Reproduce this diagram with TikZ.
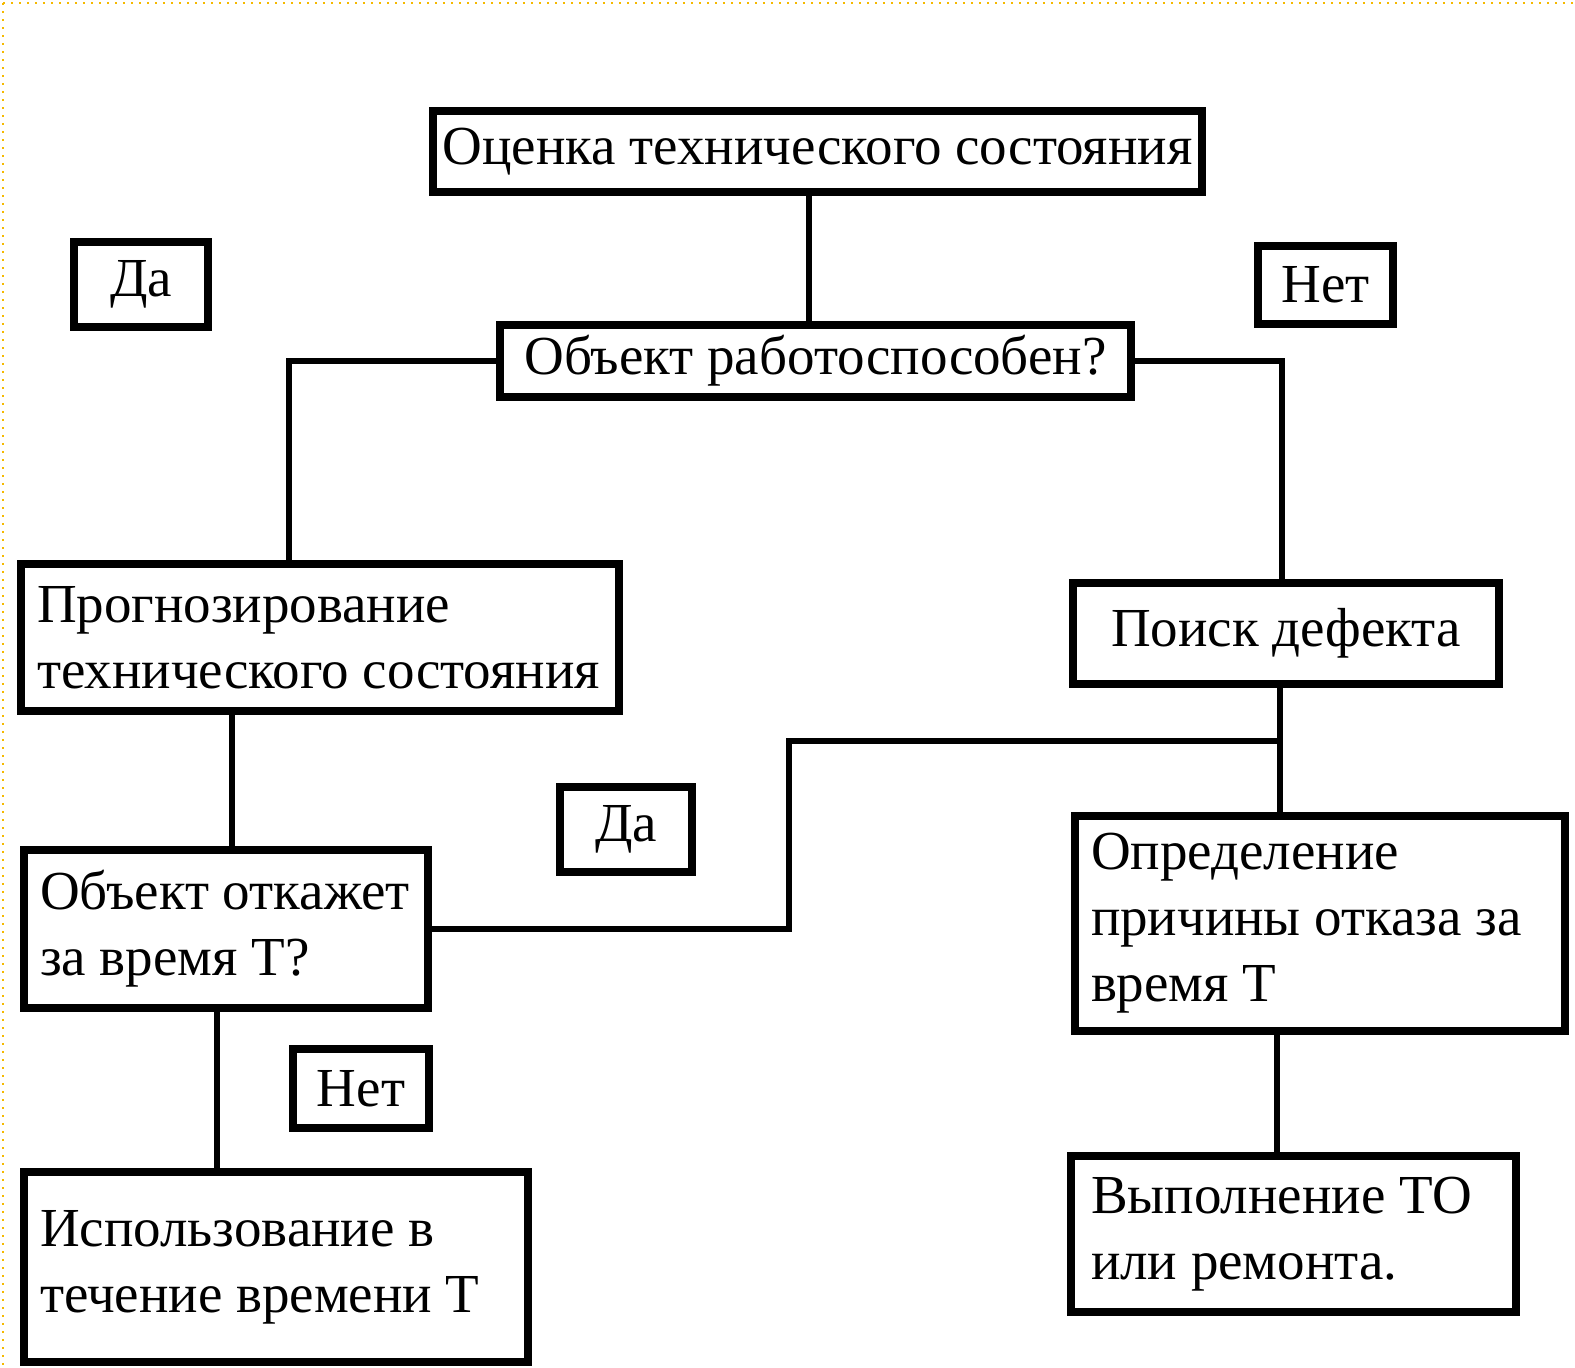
\documentclass[tikz,border=0pt]{standalone}
\usepackage{fontspec}
\setmainfont{Liberation Serif}
\tikzset{
	blok/.style={draw,line width=8pt,inner xsep=16pt,inner ysep=0pt,align=flush left,font=\fontsize{55}{66}\selectfont},
	metka/.style={blok,inner xsep=10pt,align=center},
	svyaz/.style={line width=5.5pt},
	ramka/.style={line width=2pt,color={rgb,255:red,245;green,185;blue,0},dash pattern=on 2pt off 6pt}
}
\begin{document}
\begin{tikzpicture}[x=1pt,y=-1pt]
		\useasboundingbox (0,0) rectangle (1575,1368);
		\draw[ramka] (3,3) -- (1575,3);
		\draw[ramka] (3,3) -- (3,1368);
		\node[metka,minimum width=769pt,minimum height=81pt] (ocenka) at (817.5,151.5) {Оценка технического состояния};
		\node[metka,minimum width=134pt,minimum height=85pt] (da1) at (141,284.5) {Да};
		\node[metka,minimum width=135pt,minimum height=78pt] (net1) at (1325.5,285) {Нет};
		\node[metka,minimum width=631pt,minimum height=72pt] (rabot) at (815.5,361) {Объект работоспособен?};
		\node[blok,minimum width=598pt,minimum height=147pt,text width=566pt] (prognoz) at (320,637.5) {Прогнозирование\\технического состояния};
		\node[metka,minimum width=426pt,minimum height=101pt] (poisk) at (1286,633.5) {Поиск дефекта};
		\node[metka,minimum width=132pt,minimum height=85pt] (da2) at (626,829.5) {Да};
		\node[blok,minimum width=404pt,minimum height=158pt,text width=372pt] (otkaz) at (226,929) {Объект откажет\\за время Т?};
		\node[blok,minimum width=490pt,minimum height=215pt,text width=458pt] (prichina) at (1320,923.5) {Определение\\причины отказа за\\время Т};
		\node[metka,minimum width=136pt,minimum height=79pt] (net2) at (361,1088.5) {Нет};
		\node[blok,minimum width=504pt,minimum height=190pt,text width=472pt] (ispolz) at (276,1267) {Использование в\\течение времени Т};
		\node[blok,inner xsep=20pt,minimum width=445pt,minimum height=156pt,text width=405pt] (remont) at (1293.5,1234) {Выполнение ТО\\или ремонта.};
		\coordinate (uzel) at (1280,741);
		\coordinate (povorot) at (789,741);
		\draw[svyaz] (ocenka.south -| 809,0) -- (rabot.north -| 809,0);
		\draw[svyaz] (rabot.west) -| (prognoz.north -| 289,0);
		\draw[svyaz] (rabot.east) -| (poisk.north -| 1282,0);
		\draw[svyaz] (poisk.south -| uzel) -- (prichina.north -| uzel);
		\draw[svyaz] (uzel) -- (povorot) |- (otkaz.east);
		\draw[svyaz] (prognoz.south -| 232,0) -- (otkaz.north -| 232,0);
		\draw[svyaz] (otkaz.south -| 217,0) -- (ispolz.north -| 217,0);
		\draw[svyaz] (prichina.south -| 1277,0) -- (remont.north -| 1277,0);
\end{tikzpicture}
\end{document}
